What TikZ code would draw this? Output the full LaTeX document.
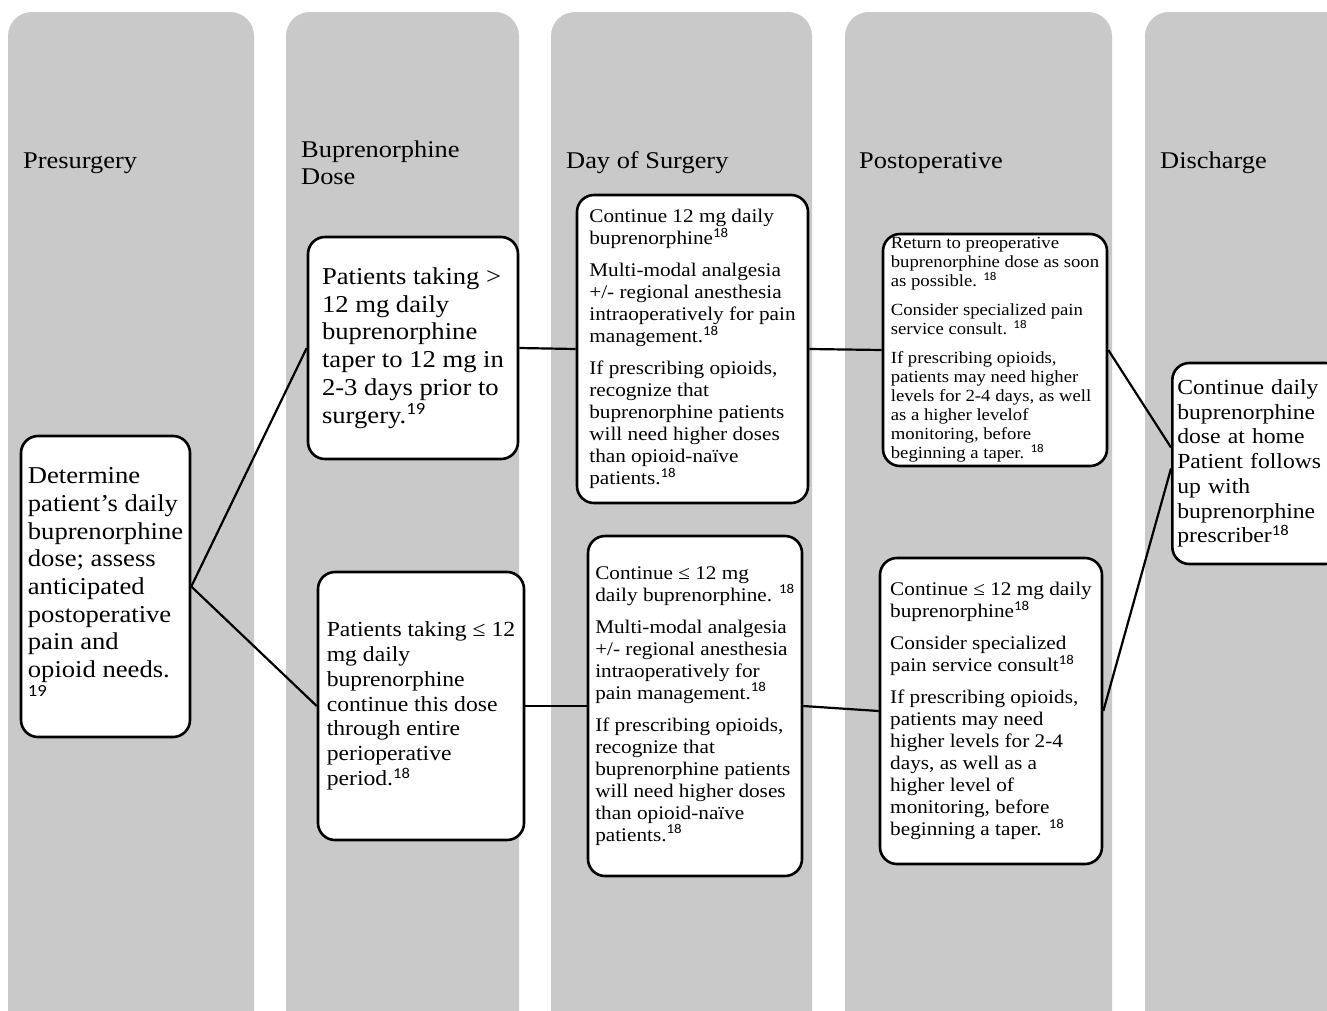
\documentclass[tikz,border=0pt]{standalone}
\usepackage{fontspec}
\setmainfont{Liberation Serif}[FakeStretch=1.1]
\newfontfamily\reffont{Carlito}[FakeStretch=1.1]
\newcommand{\sref}[1]{\textsuperscript{\reffont #1}}
\definecolor{lanegray}{RGB}{201,201,201}
\tikzset{lane/.style={fill=lanegray, rounded corners=24pt},
  card/.style={draw, fill=white, line width=2.6pt, rounded corners=17pt,
    align=left, inner sep=5pt},
  link/.style={line width=2.2pt},
  head/.style={anchor=west, align=left, inner sep=0pt,
    font=\fontsize{24}{27}\selectfont}}

\begin{document}
\begin{tikzpicture}[x=1pt, y=-1pt]
  \useasboundingbox (0,0) rectangle (1327,1010);
  \clip (0,0) rectangle (1327,1010);
  \fill[white] (0,0) rectangle (1327,1010);
  \fill[lane] (8,12) rectangle (254,1040);     % presurgery
  \fill[lane] (286,12) rectangle (519,1040);   % dose
  \fill[lane] (551,12) rectangle (812,1040);   % day of surgery
  \fill[lane] (845,12) rectangle (1112,1040);  % postoperative
  \fill[lane] (1145,12) rectangle (1380,1040); % discharge

  \node[head] (hpre) at (23,163) {Presurgery};
  \node[head] (hdose) at (301,163) {Buprenorphine\\Dose};
  \node[head] (hday) at (566,163) {Day of Surgery};
  \node[head] (hpost) at (859,163) {Postoperative};
  \node[head] (hdis) at (1160,163) {Discharge};

  \node[card, minimum width=169pt, minimum height=301pt,
    font=\fontsize{24.2}{27.7}\selectfont] (det) at (105.5,586.5)
    {Determine\\patient’s daily\\buprenorphine\\dose; assess\\anticipated\\
     postoperative\\pain and\\opioid needs.\\\sref{19}};
  \node[card, minimum width=210pt, minimum height=222pt,
    font=\fontsize{24.2}{27.7}\selectfont] (high) at (413,348)
    {Patients taking >\\12 mg daily\\buprenorphine\\taper to 12 mg in\\
     2-3 days prior to\\surgery.\sref{19}};
  \node[card, minimum width=206pt, minimum height=268pt,
    font=\fontsize{21.5}{24.8}\selectfont] (low) at (421,706)
    {Patients taking ≤ 12\\mg daily\\buprenorphine\\continue this dose\\
     through entire\\perioperative\\period.\sref{18}};
  \node[card, minimum width=231pt, minimum height=308pt,
    font=\fontsize{19.3}{22}\selectfont] (dayhigh) at (692.5,349)
    {Continue 12 mg daily\\buprenorphine\sref{18}\\[10pt]
     Multi-modal analgesia\\+/- regional anesthesia\\
     intraoperatively for pain\\management.\sref{18}\\[10pt]
     If prescribing opioids,\\recognize that\\buprenorphine patients\\
     will need higher doses\\than opioid-naïve\\patients.\sref{18}};
  \node[card, minimum width=214pt, minimum height=340pt,
    font=\fontsize{19.3}{22}\selectfont] (daylow) at (695,706)
    {Continue ≤ 12 mg\\daily buprenorphine. \sref{18}\\[10pt]
     Multi-modal analgesia\\+/- regional anesthesia\\
     intraoperatively for\\pain management.\sref{18}\\[10pt]
     If prescribing opioids,\\recognize that\\buprenorphine patients\\
     will need higher doses\\than opioid-naïve\\patients.\sref{18}};
  \node[card, minimum width=224pt, minimum height=232pt, inner ysep=1pt,
    font=\fontsize{17}{19}\selectfont] (posthigh) at (995,350)
    {Return to preoperative\\buprenorphine dose as soon\\
     as possible. \sref{18}\\[10pt]
     Consider specialized pain\\service consult. \sref{18}\\[10pt]
     If prescribing opioids,\\patients may need higher\\
     levels for 2-4 days, as well\\as a higher levelof\\
     monitoring, before\\beginning a taper. \sref{18}};
  \node[card, minimum width=222pt, minimum height=306pt,
    font=\fontsize{19.3}{22}\selectfont] (postlow) at (991,711)
    {Continue ≤ 12 mg daily\\buprenorphine\sref{18}\\[10pt]
     Consider specialized\\pain service consult\sref{18}\\[10pt]
     If prescribing opioids,\\patients may need\\higher levels for 2-4\\
     days, as well as a\\higher level of\\monitoring, before\\
     beginning a taper. \sref{18}};
  \node[card, text width=160pt, minimum height=201pt, anchor=west,
    font=\fontsize{21.5}{24.7}\selectfont] (home) at (1171,463.5)
    {Continue daily\\buprenorphine\\dose at home\\Patient follows\\
     up with\\buprenorphine\\prescriber\sref{18}};

  \draw[link] (det.east) -- (high.west);
  \draw[link] (det.east) -- (low.west);
  \draw[link] (high.east) -- (dayhigh.west);
  \draw[link] (low.east) -- (daylow.west);
  \draw[link] (dayhigh.east) -- (posthigh.west);
  \draw[link] (daylow.east) -- (postlow.west);
  \draw[link] (posthigh.east) -- ([yshift=16pt]home.west);
  \draw[link] (postlow.east) -- ([yshift=-5pt]home.west);
\end{tikzpicture}
\end{document}
